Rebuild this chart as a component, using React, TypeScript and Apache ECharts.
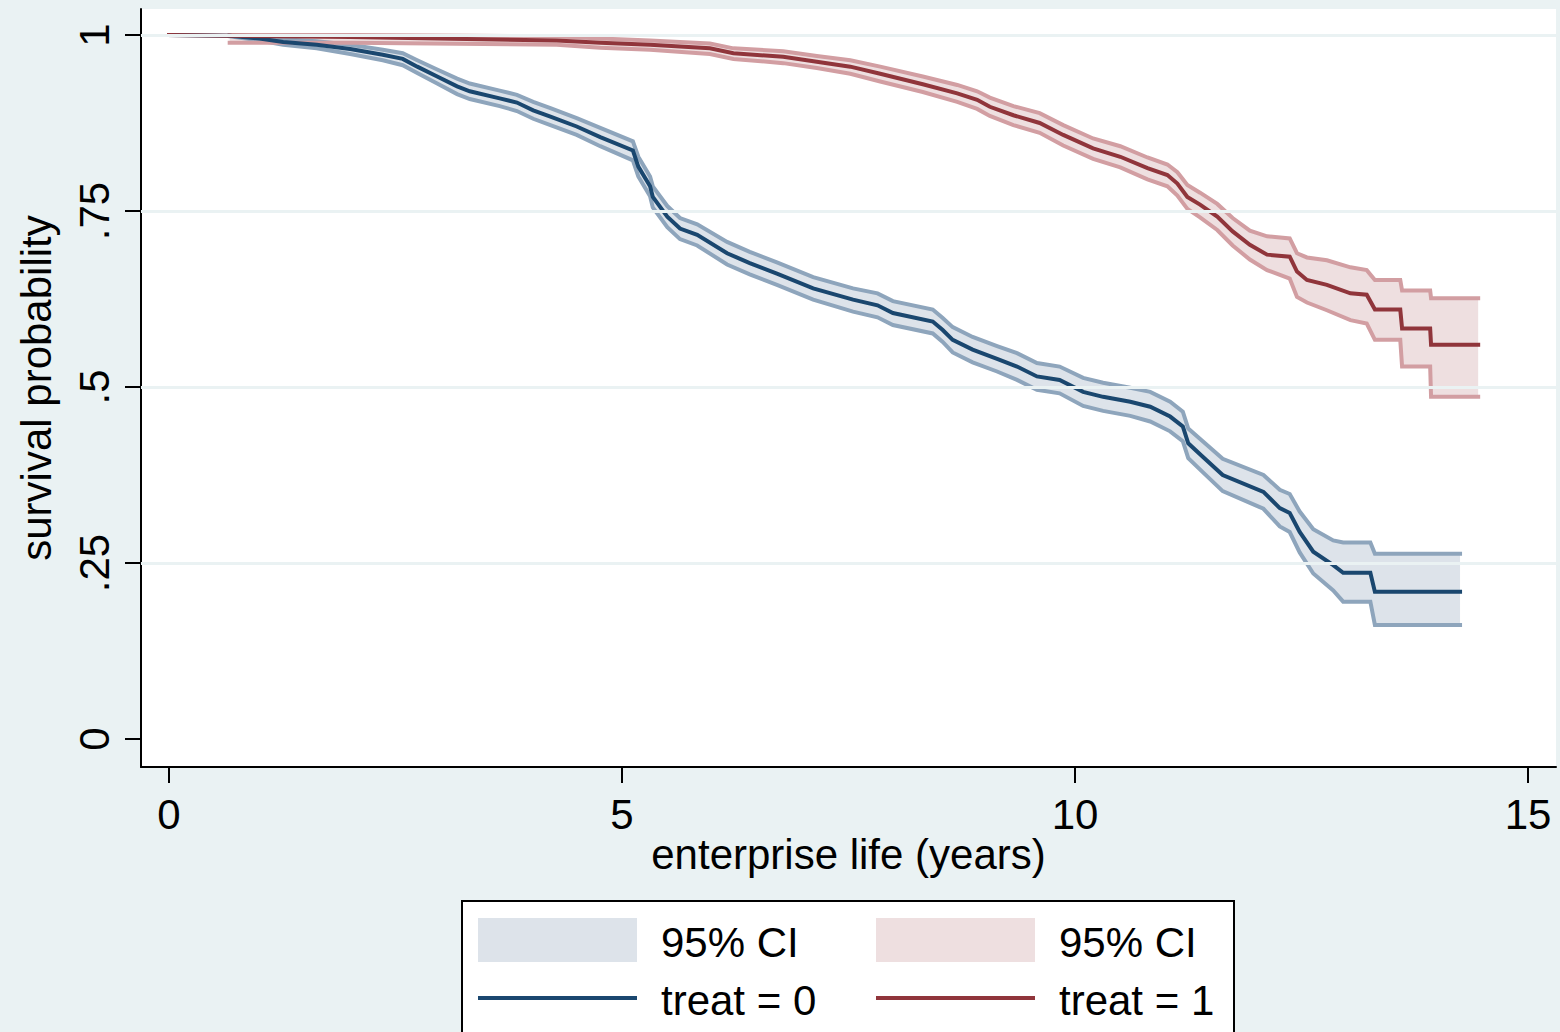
import React, { useEffect, useRef } from "react";
import * as echarts from "echarts";

// ---- data ----
const xTicks = [0, 5, 10, 15];
const yTicks = [0, 0.25, 0.5, 0.75, 1];
const gridValues = [0.25, 0.5, 0.75, 1];

// treat = 0
const tBlue = [0, 0.67, 1.0, 1.26, 1.63, 2.0, 2.36, 2.58, 2.74, 2.96, 3.18, 3.32, 3.65, 3.84, 4.02, 4.21, 4.5, 4.76, 5.12, 5.18, 5.31, 5.34, 5.5, 5.64, 5.83, 6.16, 6.41, 6.71, 7.11, 7.55, 7.82, 7.99, 8.43, 8.54, 8.65, 8.87, 9.14, 9.36, 9.58, 9.83, 10.09, 10.31, 10.61, 10.83, 11.05, 11.19, 11.25, 11.41, 11.63, 12.08, 12.26, 12.37, 12.48, 12.63, 12.85, 12.96, 13.26, 13.31, 14.25];
const sBlue = [1.0, 0.999, 0.995, 0.99, 0.986, 0.98, 0.972, 0.966, 0.955, 0.941, 0.927, 0.92, 0.91, 0.904, 0.893, 0.884, 0.87, 0.855, 0.836, 0.813, 0.785, 0.77, 0.742, 0.725, 0.716, 0.69, 0.676, 0.661, 0.64, 0.624, 0.616, 0.605, 0.593, 0.581, 0.567, 0.553, 0.54, 0.529, 0.515, 0.51, 0.493, 0.486, 0.479, 0.472, 0.458, 0.444, 0.42, 0.401, 0.375, 0.351, 0.328, 0.321, 0.294, 0.266, 0.247, 0.236, 0.236, 0.209, 0.209];
const upBlue = [null, 1.0, 0.998, 0.994, 0.991, 0.986, 0.979, 0.974, 0.964, 0.951, 0.938, 0.931, 0.921, 0.915, 0.905, 0.896, 0.882, 0.868, 0.849, 0.827, 0.799, 0.785, 0.757, 0.74, 0.731, 0.706, 0.692, 0.677, 0.656, 0.64, 0.633, 0.622, 0.61, 0.598, 0.585, 0.571, 0.558, 0.548, 0.534, 0.529, 0.513, 0.506, 0.499, 0.493, 0.479, 0.465, 0.441, 0.423, 0.398, 0.375, 0.354, 0.348, 0.323, 0.298, 0.282, 0.279, 0.279, 0.263, 0.263];
const loBlue = [null, 0.998, 0.992, 0.986, 0.981, 0.973, 0.964, 0.957, 0.946, 0.931, 0.916, 0.909, 0.899, 0.892, 0.881, 0.872, 0.858, 0.842, 0.822, 0.799, 0.771, 0.755, 0.727, 0.71, 0.701, 0.674, 0.66, 0.645, 0.624, 0.607, 0.599, 0.588, 0.576, 0.564, 0.549, 0.535, 0.522, 0.51, 0.496, 0.491, 0.473, 0.466, 0.459, 0.451, 0.437, 0.423, 0.399, 0.379, 0.352, 0.327, 0.302, 0.294, 0.265, 0.235, 0.211, 0.195, 0.195, 0.162, 0.162];

// treat = 1
const tRed = [0, 0.67, 2.0, 4.28, 4.76, 5.31, 5.97, 6.23, 6.78, 7.15, 7.52, 7.85, 8.32, 8.7, 8.92, 9.06, 9.32, 9.61, 9.87, 10.2, 10.5, 10.8, 11.02, 11.13, 11.24, 11.38, 11.57, 11.74, 11.93, 12.12, 12.37, 12.45, 12.56, 12.78, 13.04, 13.22, 13.31, 13.59, 13.61, 13.92, 13.93, 14.45];
const sRed = [1.0, 0.999, 0.997, 0.992, 0.989, 0.986, 0.981, 0.974, 0.969, 0.962, 0.955, 0.945, 0.93, 0.917, 0.908, 0.898, 0.886, 0.875, 0.858, 0.839, 0.827, 0.811, 0.801, 0.789, 0.77, 0.759, 0.742, 0.721, 0.702, 0.688, 0.685, 0.664, 0.652, 0.645, 0.633, 0.631, 0.61, 0.61, 0.583, 0.583, 0.56, 0.56];
const upRed = [null, 1.0, 1.0, 0.998, 0.995, 0.992, 0.988, 0.981, 0.977, 0.97, 0.964, 0.955, 0.941, 0.929, 0.92, 0.911, 0.899, 0.889, 0.872, 0.853, 0.842, 0.826, 0.816, 0.805, 0.787, 0.776, 0.76, 0.74, 0.722, 0.714, 0.711, 0.69, 0.684, 0.68, 0.67, 0.666, 0.652, 0.652, 0.637, 0.637, 0.626, 0.626];
const loRed = [null, 0.989, 0.989, 0.986, 0.982, 0.979, 0.973, 0.966, 0.96, 0.953, 0.945, 0.934, 0.919, 0.905, 0.895, 0.885, 0.872, 0.861, 0.843, 0.824, 0.812, 0.795, 0.785, 0.772, 0.753, 0.741, 0.723, 0.701, 0.681, 0.666, 0.654, 0.628, 0.62, 0.609, 0.595, 0.59, 0.567, 0.567, 0.529, 0.529, 0.486, 0.486];

const legendLabels = ["95% CI", "95% CI", "treat = 0", "treat = 1"];

// ---- styles ----
const FONT = "Liberation Sans";
const BG = "#EAF2F3";
const BLUE = "#1A476F";
const BLUE_CI = "#8EA5BC";
const BLUE_FILL = "#DDE3EA";
const RED = "#90353B";
const RED_CI = "#D29EA2";
const RED_FILL = "#EEDFE0";

function pairs(t: number[], v: (number | null)[]) {
  const out: number[][] = [];
  t.forEach((x, i) => {
    if (v[i] !== null && v[i] !== undefined) out.push([x, v[i] as number]);
  });
  return out;
}

function lineSeries(name: string, data: number[][], color: string, width: number, z: number) {
  return {
    name,
    type: "line",
    data,
    symbol: "none",
    showSymbol: false,
    lineStyle: { color, width, cap: "square", join: "miter" },
    z,
    silent: true,
  };
}

function bandSeries(t: number[], up: (number | null)[], lo: (number | null)[], fill: string) {
  const upper = pairs(t, up);
  const lower = pairs(t, lo);
  return {
    type: "custom",
    silent: true,
    z: 2,
    data: [[t[0], 0]],
    renderItem: (_params: any, api: any) => {
      const pts: number[][] = [];
      upper.forEach((p) => pts.push(api.coord(p)));
      for (let i = lower.length - 1; i >= 0; i--) pts.push(api.coord(lower[i]));
      return {
        type: "polygon",
        shape: { points: pts },
        style: { fill, stroke: "none" },
      };
    },
  };
}

export default function App() {
  const ref = useRef<HTMLDivElement>(null);
  useEffect(() => {
    if (!ref.current) return;
    const chart = echarts.init(ref.current, null, { renderer: "svg" });
    const fmt = (v: number) => (v === 0 ? "0" : v === 1 ? "1" : String(v).replace(/^0/, ""));
    const option: any = {
      animation: false,
      backgroundColor: BG,
      textStyle: { fontFamily: FONT },
      grid: {
        left: 141,
        top: 9,
        right: 4,
        bottom: 265,
        show: true,
        backgroundColor: "#ffffff",
        borderWidth: 0,
        containLabel: false,
        outerBoundsMode: "none",
      },
      xAxis: {
        type: "value",
        min: -0.309,
        max: 15.309,
        name: "enterprise life (years)",
        nameLocation: "middle",
        nameGap: 66,
        nameMoveOverlap: false,
        nameTextStyle: { fontSize: 42, color: "#000", fontFamily: FONT },
        axisLine: { show: true, onZero: false, lineStyle: { color: "#000", width: 2 } },
        axisTick: { show: true, length: 16, customValues: xTicks, lineStyle: { color: "#000", width: 2 } },
        axisLabel: {
          show: true,
          customValues: xTicks,
          fontSize: 42,
          color: "#000",
          fontFamily: FONT,
          margin: 26,
          formatter: (v: number) => String(v),
        },
        splitLine: { show: false },
      },
      yAxis: {
        type: "value",
        min: -0.0398,
        max: 1.0369,
        name: "survival probability",
        nameLocation: "middle",
        nameGap: 84,
        nameRotate: 90,
        nameMoveOverlap: false,
        nameTextStyle: { fontSize: 42, color: "#000", fontFamily: FONT },
        axisLine: { show: true, onZero: false, lineStyle: { color: "#000", width: 2 } },
        axisTick: { show: true, length: 16, customValues: yTicks, lineStyle: { color: "#000", width: 2 } },
        axisLabel: {
          show: true,
          customValues: yTicks,
          rotate: 90,
          fontSize: 42,
          color: "#000",
          fontFamily: FONT,
          margin: 26,
          formatter: fmt,
        },
        splitLine: { show: false },
      },
      series: [
        {
          type: "line",
          data: [],
          silent: true,
          z: 1,
          markLine: {
            silent: true,
            symbol: "none",
            label: { show: false },
            lineStyle: { color: BG, width: 3, type: "solid" },
            data: gridValues.map((v) => ({ yAxis: v })),
            animation: false,
          },
        },
        bandSeries(tBlue, upBlue, loBlue, BLUE_FILL),
        bandSeries(tRed, upRed, loRed, RED_FILL),
        lineSeries("blueUp", pairs(tBlue, upBlue), BLUE_CI, 4, 3),
        lineSeries("blueLo", pairs(tBlue, loBlue), BLUE_CI, 4, 3),
        lineSeries("redUp", pairs(tRed, upRed), RED_CI, 4, 3),
        lineSeries("redLo", pairs(tRed, loRed), RED_CI, 4, 3),
        lineSeries("treat = 0", pairs(tBlue, sBlue), BLUE, 4, 4),
        lineSeries("treat = 1", pairs(tRed, sRed), RED, 4, 4),
      ],
      graphic: [
        {
          type: "rect",
          shape: { x: 462, y: 901, width: 772, height: 140 },
          style: { fill: "#ffffff", stroke: "#000", lineWidth: 2 },
          z: 10,
        },
        { type: "rect", shape: { x: 478, y: 918, width: 159, height: 44 }, style: { fill: BLUE_FILL }, z: 11 },
        { type: "rect", shape: { x: 876, y: 918, width: 159, height: 44 }, style: { fill: RED_FILL }, z: 11 },
        { type: "line", shape: { x1: 478, y1: 998, x2: 637, y2: 998 }, style: { stroke: BLUE, lineWidth: 4 }, z: 11 },
        { type: "line", shape: { x1: 876, y1: 998, x2: 1035, y2: 998 }, style: { stroke: RED, lineWidth: 4 }, z: 11 },
        {
          type: "text",
          x: 661,
          y: 942,
          style: { text: legendLabels[0], fontSize: 42, fontFamily: FONT, fill: "#000", verticalAlign: "middle" },
          z: 11,
        },
        {
          type: "text",
          x: 1059,
          y: 942,
          style: { text: legendLabels[1], fontSize: 42, fontFamily: FONT, fill: "#000", verticalAlign: "middle" },
          z: 11,
        },
        {
          type: "text",
          x: 661,
          y: 1000,
          style: { text: legendLabels[2], fontSize: 42, fontFamily: FONT, fill: "#000", verticalAlign: "middle" },
          z: 11,
        },
        {
          type: "text",
          x: 1059,
          y: 1000,
          style: { text: legendLabels[3], fontSize: 42, fontFamily: FONT, fill: "#000", verticalAlign: "middle" },
          z: 11,
        },
      ],
    };
    chart.setOption(option);
    return () => chart.dispose();
  }, []);
  return (
    <div
      ref={ref}
      style={{ position: "absolute", left: 0, top: 0, width: 1560, height: 1032 }}
    />
  );
}
